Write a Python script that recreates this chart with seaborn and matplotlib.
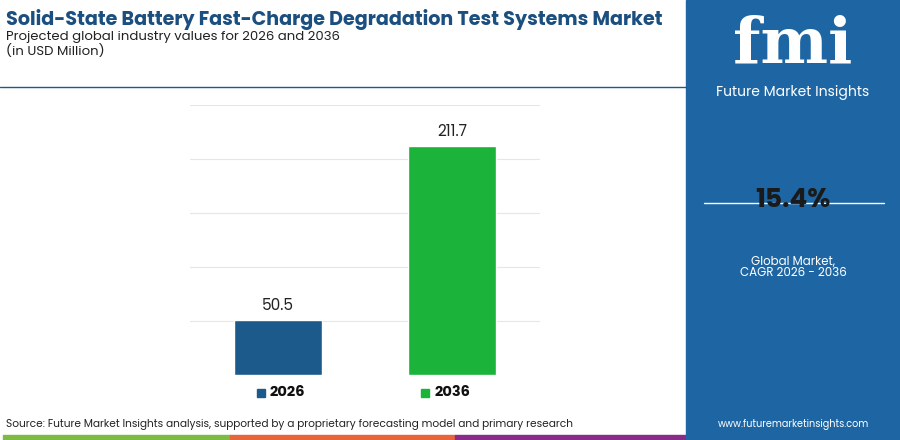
import matplotlib
matplotlib.use('Agg')
import matplotlib.pyplot as plt
import seaborn as sns
import pandas as pd

years = ['2026', '2036']
values = [50.5, 211.7]
bar_colors = ['#1d5a8c', '#1bb33a']
cagr = '15.4%'

sns.set_theme(style='white')
plt.rcParams['font.family'] = ['Poppins', 'Roboto', 'DejaVu Sans']

fig = plt.figure(figsize=(9, 4.4), dpi=100)

ax = fig.add_axes([190 / 900, 65 / 440, 350 / 900, 270 / 440])
df = pd.DataFrame({'year': years, 'value': values})
sns.barplot(data=df, x='year', y='value', hue='year', palette=bar_colors,
            width=0.506, legend=False, ax=ax, saturation=1)
ax.set_xlim(-0.506, 1.506)
ax.set_ylim(0, 250)
ax.set_yticks([50, 100, 150, 200, 250])
ax.yaxis.grid(True, color='#e6e6e6', linewidth=0.8)
ax.set_axisbelow(True)
for s in ax.spines.values():
    s.set_visible(False)
ax.set_xticks([])
ax.set_yticklabels([])
ax.tick_params(left=False)
ax.set_xlabel('')
ax.set_ylabel('')
for i, v in enumerate(values):
    ax.text(i, v + 6, f'{v:.1f}', ha='center', va='bottom', fontsize=11, color='#222222')

# legend
for x, label, c in [(0.285, years[0], bar_colors[0]), (0.468, years[1], bar_colors[1])]:
    fig.patches.append(plt.Rectangle((x, 43 / 440), 8 / 900, 8 / 440, color=c, transform=fig.transFigure))
    fig.text(x + 13 / 900, 47 / 440, label, fontsize=10.5, fontweight='bold', va='center', color='#111111')

# titles
fig.text(6 / 900, 1 - 20 / 440, 'Solid-State Battery Fast-Charge Degradation Test Systems Market',
         fontsize=13.8, fontweight='bold', color='#1b4f7f', va='center')
fig.text(6 / 900, 1 - 37 / 440, 'Projected global industry values for 2026 and 2036',
         fontsize=9.5, color='#222222', va='center')
fig.text(6 / 900, 1 - 51 / 440, '(in USD Million)', fontsize=9.5, color='#222222', va='center')
fig.add_artist(plt.Line2D([0, 686 / 900], [1 - 87 / 440] * 2, color='#1b5a8c', linewidth=1))

fig.text(6 / 900, 16 / 440,
         'Source: Future Market Insights analysis, supported by a proprietary forecasting model and primary research',
         fontsize=7.6, color='#222222', va='center')

# bottom strip
for x0, x1, c in [(3, 230, '#7dbb42'), (230, 455, '#e8643a'), (455, 686, '#8a2b8a')]:
    fig.patches.append(plt.Rectangle((x0 / 900, 0), (x1 - x0) / 900, 5 / 440, color=c, transform=fig.transFigure))

# right panel
fig.patches.append(plt.Rectangle((686 / 900, 0), 214 / 900, 1, color='#1e66a3', transform=fig.transFigure))
cx = 793 / 900
fig.text(cx, 1 - 45 / 440, 'fmi', fontsize=46, fontweight='bold', color='white', ha='center', va='center',
         family=['DejaVu Serif'])
fig.text(cx, 1 - 92 / 440, 'Future Market Insights', fontsize=10, color='white', ha='center', va='center')
fig.text(cx, 1 - 200 / 440, cagr, fontsize=19, fontweight='bold', color='#1a1a1a', ha='center', va='center')
fig.add_artist(plt.Line2D([704 / 900, 884 / 900], [1 - 203 / 440] * 2, color='white', linewidth=1))
fig.text(cx, 1 - 262 / 440, 'Global Market,', fontsize=8.5, color='white', ha='center', va='center')
fig.text(cx, 1 - 273 / 440, 'CAGR 2026 - 2036', fontsize=8.5, color='white', ha='center', va='center')
fig.text(cx, 1 - 424 / 440, 'www.futuremarketinsights.com', fontsize=7, color='white', ha='center', va='center')

fig.savefig('out.png', dpi=100)
